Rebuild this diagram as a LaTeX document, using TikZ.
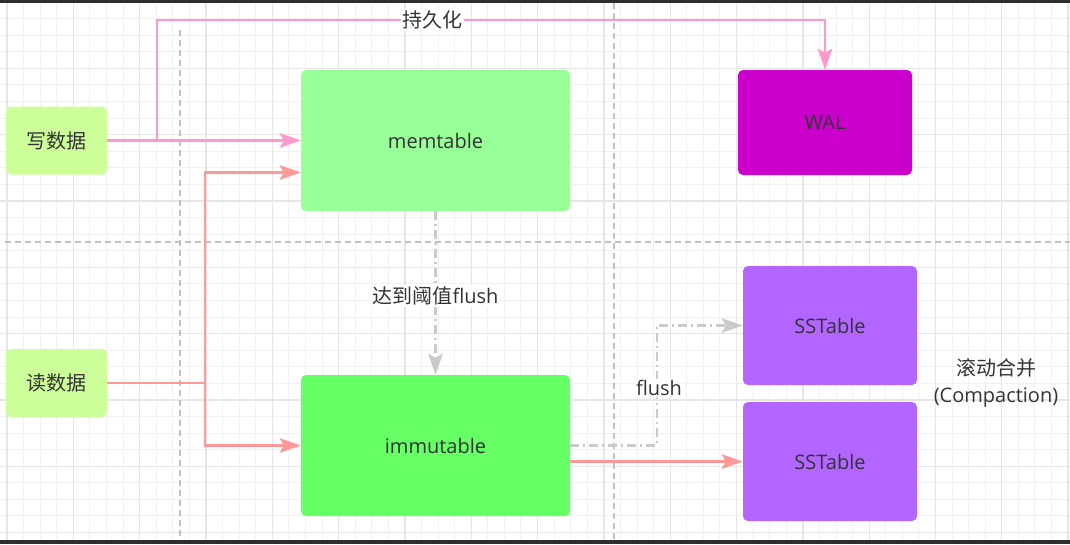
\documentclass[tikz,border=0pt]{standalone}
\usepackage{fontspec}
\setmainfont{Open Sans}
\newfontfamily\cjk{Noto Sans CJK SC}
\usetikzlibrary{arrows.meta,calc}
\definecolor{gridminor}{HTML}{F1F1F1}
\definecolor{gridmajor}{HTML}{E6E6E6}
\definecolor{barcol}{HTML}{2E2E2E}
\definecolor{sepcol}{HTML}{C0C0C0}
\definecolor{txtcol}{HTML}{333333}
\definecolor{inputfill}{HTML}{CCFF99}
\definecolor{memfill}{HTML}{99FF99}
\definecolor{immfill}{HTML}{66FF66}
\definecolor{walfill}{HTML}{CC00CC}
\definecolor{sstfill}{HTML}{B266FF}
\definecolor{pinkc}{HTML}{FF99CC}
\definecolor{salmonc}{HTML}{FF9999}
\definecolor{grayc}{HTML}{CACACA}
\tikzset{
  box/.style={rounded corners=5pt, draw=none, inner sep=0pt, text=txtcol,
    font=\fontsize{20}{24}\selectfont},
  smallbox/.style={box, minimum width=101pt, minimum height=68pt, fill=inputfill},
  bigbox/.style={box, minimum width=269pt, minimum height=141pt},
  sstbox/.style={box, fill=sstfill, minimum width=174pt, minimum height=119pt},
  sepline/.style={draw=sepcol, line width=2pt, dash pattern=on 6pt off 4pt},
  tip/.style={-{Stealth[length=21pt,width=14.5pt,inset=4pt]}},
  pinkline/.style={draw=pinkc, line width=2.4pt, tip},
  salmonline/.style={draw=salmonc, line width=2.4pt, tip},
  grayline/.style={draw=grayc, line width=2.4pt, dash pattern=on 9pt off 4pt on 2pt off 4pt, tip},
  lbl/.style={fill=white, inner sep=1.5pt, text=txtcol, font=\fontsize{20}{24}\selectfont}
}
\begin{document}
\begin{tikzpicture}[x=1pt,y=-1pt]
\useasboundingbox (0,0) rectangle (1070,544);
\fill[white] (0,0) rectangle (1070,544);
% grid
\foreach \k in {0,...,64} {\draw[gridminor, line width=1pt] ({7+16.58*\k},0) -- ({7+16.58*\k},544);}
\foreach \k in {0,...,33} {\draw[gridminor, line width=1pt] (0,{2+16.58*\k}) -- (1070,{2+16.58*\k});}
\foreach \k in {0,...,16} {\draw[gridmajor, line width=1.3pt] ({7+66.32*\k},0) -- ({7+66.32*\k},544);}
\foreach \k in {0,...,8} {\draw[gridmajor, line width=1.3pt] (0,{2+66.32*\k}) -- (1070,{2+66.32*\k});}
% separators
\draw[sepline] (180,30) -- (180,540);
\draw[sepline] (614,3) -- (614,540);
\draw[sepline] (5,242) -- (1070,242);
% frame bars
\fill[barcol] (0,0) rectangle (1070,3);
\fill[barcol] (0,540) rectangle (1070,544);
% nodes
\node[smallbox] (w) at (56.5,140.5) {\cjk 写数据};
\node[smallbox] (r) at (56.5,383) {\cjk 读数据};
\node[bigbox, fill=memfill] (mem) at (435.5,140.5) {memtable};
\node[bigbox, fill=immfill] (imm) at (435.5,445.5) {immutable};
\node[box, fill=walfill, minimum width=174pt, minimum height=105pt] (wal) at (825,122.5) {WAL};
\node[sstbox] (s1) at (830,325.5) {SSTable};
\node[sstbox] (s2) at (830,461.5) {SSTable};
\node[text=txtcol, align=center, font=\fontsize{20}{27}\selectfont] (cmp) at (996,383) {{\cjk 滚动合并}\\(Compaction)};
% coordinates
\coordinate (wb) at (157,140.5);
\coordinate (wtop) at (157,20);
\coordinate (rb) at (205,383);
\coordinate (fb) at (657,445.5);
% connectors
\draw[pinkline] (w.east) -- (mem.west);
\draw[pinkline] (wb) -- (wtop) -| (wal.north);
\node[lbl] (plbl) at (432,20) {\cjk 持久化};
\draw[salmonline] (r.east) -- (rb) |- ([yshift=-32pt]mem.west);
\draw[salmonline] (rb) |- (imm.west);
\draw[grayline] (mem.south) -- (imm.north);
\node[lbl] (tlbl) at (435.5,296) {{\cjk 达到阈值}flush};
\draw[grayline] (imm.east) -- (fb) |- (s1.west);
\node[lbl] (flbl) at (659,388) {flush};
\draw[salmonline] (imm.east |- s2.west) -- (s2.west);
\end{tikzpicture}
\end{document}
